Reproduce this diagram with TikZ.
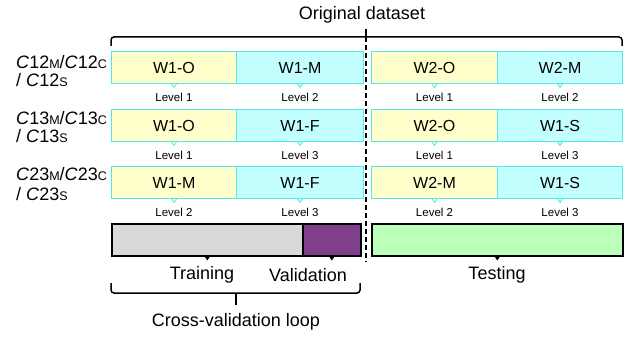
\documentclass[tikz,border=0pt]{standalone}
\usepackage{fontspec}
\setmainfont{Liberation Sans}
\definecolor{ylw}{HTML}{FFFFCC}
\definecolor{cyn}{HTML}{C4FFFF}
\definecolor{cbd}{HTML}{55E8E8}
\definecolor{gry}{HTML}{D9D9D9}
\definecolor{prp}{HTML}{7F3F8A}
\definecolor{grn}{HTML}{BBFFBB}
\newcommand\smcap[1]{{\fontsize{12.5}{12}\selectfont #1}}
\begin{document}
\begin{tikzpicture}[x=1pt,y=-1pt,
  cell/.style={draw=cbd, line width=1pt, minimum height=32pt, inner sep=0pt,
    font=\fontsize{16}{16}\selectfont, anchor=north west},
  ycell/.style={cell, fill=ylw},
  ccell/.style={cell, fill=cyn},
  lvl/.style={font=\fontsize{11.5}{12}\selectfont, inner sep=0pt},
  bar/.style={draw=black, line width=1.5pt, minimum height=32pt, inner sep=0pt, anchor=north west},
  big/.style={font=\fontsize{18}{18}\selectfont, inner sep=0pt},
  rowlab/.style={font=\fontsize{18}{18}\selectfont, inner sep=0pt, anchor=base west},
  brc/.style={line width=1.5pt, rounded corners=3pt},
]
\useasboundingbox (0,0) rectangle (636,337);

% title and top bracket
\node[big] (title) at (362,15) {Original dataset};
\draw[brc] (111,46) -- (111,37) -- (622,37) -- (622,46);
\coordinate (dtop) at (366,29);
\coordinate (dbot) at (366,262);
\draw[line width=1.5pt] (366,37) -- (dtop);
\draw[line width=1.8pt, dash pattern=on 5pt off 3pt] (dtop) -- (dbot);

% row labels
\node[rowlab] (rl1a) at (16,68.5) {\textit{C}12\smcap{M}/\textit{C}12\smcap{C}};
\node[rowlab] (rl1b) at (16,86.5) {/ \textit{C}12\smcap{S}};
\node[rowlab] (rl2a) at (16,124.5) {\textit{C}13\smcap{M}/\textit{C}13\smcap{C}};
\node[rowlab] (rl2b) at (16,142.5) {/ \textit{C}13\smcap{S}};
\node[rowlab] (rl3a) at (16,180) {\textit{C}23\smcap{M}/\textit{C}23\smcap{C}};
\node[rowlab] (rl3b) at (16,200) {/ \textit{C}23\smcap{S}};

% cells
\foreach \r/\y/\a/\b/\c/\d/\la/\lb/\lc/\ld in
  {1/51/W1-O/W1-M/W2-O/W2-M/1/2/1/2,
   2/109/W1-O/W1-F/W2-O/W1-S/1/3/1/3,
   3/166/W1-M/W1-F/W2-M/W1-S/2/3/2/3}{
  \node[ycell, minimum width=125pt] (c\r a) at (111,\y) {\a};
  \node[ccell, minimum width=127pt] (c\r b) at (236,\y) {\b};
  \node[ycell, minimum width=126pt] (c\r c) at (371,\y) {\c};
  \node[ccell, minimum width=125pt] (c\r d) at (497,\y) {\d};
  \foreach \k/\lv/\f in {a/\la/ylw, b/\lb/cyn, c/\lc/ylw, d/\ld/cyn}{
    \draw[cbd, fill=\f, line width=0.8pt]
      ([xshift=-2.5pt]c\r\k.south) -- ([yshift=-3.5pt]c\r\k.south) -- ([xshift=2.5pt]c\r\k.south);
    \node[lvl] (l\r\k) at ([yshift=-13pt]c\r\k.south) {Level \lv};
  }
}

% bars
\node[bar, fill=gry, minimum width=191pt] (train) at (111,223) {};
\node[bar, fill=prp, minimum width=58pt] (valid) at (302,223) {};
\node[bar, fill=grn, minimum width=251pt] (test) at (371,223) {};
\foreach \n in {train,valid,test}{
  \fill ([xshift=-3pt,yshift=0.5pt]\n.south) -- ([yshift=-4pt]\n.south) -- ([xshift=3pt,yshift=0.5pt]\n.south) -- cycle;
}
\node[big] (ltrain) at (202,275) {Training};
\node[big] (lvalid) at (308,275) {Validation};
\node[big] (ltest) at (497,275) {Testing};

% bottom bracket
\draw[brc] (111,283) -- (111,293) -- (360,293) -- (360,283);
\draw[line width=1.5pt] (236,293) -- (236,305);
\node[big] (cv) at (236,322) {Cross-validation loop};
\end{tikzpicture}
\end{document}
